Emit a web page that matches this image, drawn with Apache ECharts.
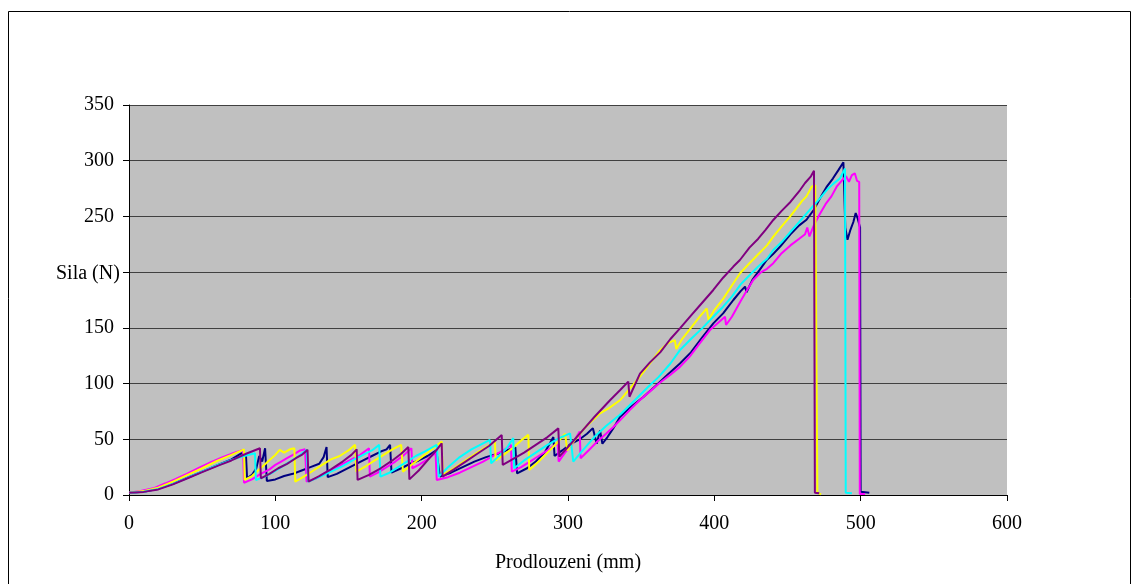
<!DOCTYPE html>
<html>
<head>
<meta charset="utf-8">
<script src="https://cdn.jsdelivr.net/npm/echarts@6/dist/echarts.min.js"></script>
<style>
html, body { margin: 0; padding: 0; background: #fff; }
#chart { width: 1132px; height: 584px; }
</style>
</head>
<body>
<div id="chart"></div>
<script>
// tick labels / axis ranges
const xTicks = [0, 100, 200, 300, 400, 500, 600]
const yTicks = [0, 50, 100, 150, 200, 250, 300, 350]

// five tensile test curves, [prodlouzeni mm, sila N]
const navyData = [[0,2],[10,3],[20,5.5],[30,10],[40,15.5],[50,21],[60,26.5],[70,32],[77,37.5],[80,34],[80.7,15],[84,18],[87,24],[89,35],[91,30],[93,42],[94.2,12.5],[100,14],[106,17],[112,19],[118,22],[124,25],[130,28],[133,34],[135,43],[135.8,16],[142,19],[148,23],[154,27],[160,31],[166,35],[172,39],[176,41],[178.4,45],[179.4,20],[186,24],[192,28],[198,31],[204,35],[210,40],[212.5,16.5],[220,20],[228,25],[236,30],[244,34],[252,37],[258,40],[264,43],[265.2,19.4],[272,24],[278,30],[284,38],[290,52],[290.8,35],[296,40],[302,46],[308,50],[313,55],[317,60],[319.6,46],[321.9,58],[323.5,46],[327,52],[331,60],[335.5,70],[342,78],[351.5,88],[360,98],[368,108],[376.5,118],[384,128],[392,142],[399.3,154],[406,163],[413,175],[418,183],[421,187],[422,182],[426,193],[431,202],[435.8,211],[440,216],[445,223],[452,234],[458,242],[463,247],[468,256],[473,268],[477,277],[481,284],[485,292],[488.2,298.6],[489.5,240],[491,229],[493,238],[495,245],[496.6,253],[498,248],[499.6,240],[500,3],[505.9,2]]
const magentaData = [[0,2],[8,3.5],[16.6,6],[25,10.5],[32,14.5],[39.4,19],[48,24.5],[56,29.5],[64,34],[72,38],[78,40.5],[78.6,11],[84,14],[90,19],[96,23],[100,27],[104,30],[108,33],[112,36],[117,40],[120.3,41],[121.4,12],[128,15],[134,20],[140,23],[146,28],[152,32],[158,36],[164,42],[164.6,16.5],[170,20],[176,25],[182,30],[188,36],[193,42],[193.6,24],[198,27],[204,32],[209.5,38],[210.3,13.5],[218,16],[226,20],[234,25],[242,30],[250,36],[256,40],[261,45],[261.6,21],[268,25],[274,30],[280,35],[286,40],[293,46.5],[293.6,30],[298,38],[303,46],[308,57],[308.6,33],[314,40],[320,48],[326,55],[331,61],[335.5,67],[342,76],[349,85],[356,93],[363,101],[370,108],[376.5,115],[383,124],[390,136],[397,148],[403,155],[407.3,160],[408,152.6],[412,160],[418,174],[422,183],[426.6,193],[432,200],[436,203],[440.3,208],[446,217],[452,224],[458,230],[462,234],[463.5,240],[465,232],[468,242],[472,252],[476,261],[480,268],[483.6,276.7],[487,282],[490,286],[492,281],[494,287],[496,288.7],[497.5,282],[499,281],[499.4,1],[503,1]]
const yellowData = [[0,2],[10,3.5],[20,6.5],[30,12],[40,18],[50,24],[60,30.5],[70,36],[78.6,41],[79,13.5],[84,17],[90,24],[95,30],[100,36],[103,40.5],[106,38],[110,41],[113,42],[113.6,12],[120,17],[126,22],[132,27],[138,32],[144,35],[150,40],[154.5,45],[155.4,21],[162,26],[168,31],[174,36],[180,41],[186,45],[187.2,21],[194,28],[200,34],[206,40],[213.7,48],[214.4,18],[222,24],[230,31],[238,38],[244,43],[250,48],[250.6,31],[256,36],[262,42],[268,49],[272.9,54],[273.5,22.4],[280,30],[286,38],[292,46],[298,55],[299.5,40],[305,50],[312,61],[321.9,73.3],[328,78],[335.5,85],[342,95],[349,106],[356,118],[362.9,130],[368,136],[373,139],[374,131],[378,140],[384,150],[390,160],[394.8,167.5],[396,157],[400,166],[406,176],[412,188],[417.6,199],[424,208],[430,216],[436,224],[440.3,231.8],[446,241],[451.7,249.8],[456,257],[460,264],[463,268],[466.5,276.7],[469,278],[470,279],[470.4,2],[473,0.5]]
const cyanData = [[0,2],[10,3],[20,5.5],[30,10],[40,15.5],[50,21],[60,26.5],[70,31.5],[80,35.5],[86.1,37.5],[86.7,13.5],[92,16],[98,20],[104,25],[110,30],[116,35],[121.4,40.5],[122.5,12],[130,16],[138,21],[146,26],[154,32],[160,36],[166,40],[171,45],[171.8,16.5],[178,20],[184,25],[190,30],[196,35],[202,39],[210.3,45],[211.7,16.5],[218,25],[226,34],[234,41],[240,45],[246.7,49.4],[247.5,28.4],[252,34],[258,42],[262.6,51],[263.2,24],[270,31],[278,38],[286,45],[294,51],[301.4,55.3],[303.6,30],[310,40],[318,52],[326,62],[335.5,72],[345.8,85.3],[354,96],[362,106],[370,118],[376.5,130],[384,140],[392,150],[399.3,160],[406,169],[412,178],[418,189],[424.2,197.4],[430,205],[436,212],[440.3,219.9],[446,227],[452,236],[458,245],[463.1,252.8],[468,260],[472,266],[476.8,273.7],[481,279],[485.9,284.2],[489.3,293],[489.8,2],[494,1.5]]
const purpleData = [[0,2],[10,2.8],[20,5],[30,9.5],[40,15],[50,20.5],[62.2,27],[70,31],[80,37],[89.5,42],[90.1,15],[96,19],[102,24],[108,28],[114,33],[118,36],[122,40.5],[122.7,12],[130,17],[138,23],[146,30],[152,36],[155.6,41],[156.2,13.5],[164,18],[172,24],[180,31],[186,37],[190.9,43],[191.6,14],[198,22],[204,31],[210,40],[213.7,46.4],[214.3,16.5],[222,23],[230,30],[238,37],[246,44],[254.7,53.8],[255.4,27],[262,32],[270,38],[278,45],[286,52],[293.4,59.8],[294.1,34.4],[302,46],[310,58],[318,70],[328.7,85],[335.5,94],[341.2,101.7],[342,88.2],[349.2,109],[356,119],[363,128],[370,140],[376.5,149.6],[384,161],[392,173],[399.3,184],[406,195],[413,205],[417.5,210.9],[424,222],[430,230],[435,238],[440.3,246.8],[446,255],[452,263],[458.6,273.7],[462,280],[466,286],[468.1,291],[468.7,2],[471.7,1.5]]

const seriesList = [
	{ name: 'navy', color: '#000080', data: navyData },
	{ name: 'magenta', color: '#FF00FF', data: magentaData },
	{ name: 'yellow', color: '#FFFF00', data: yellowData },
	{ name: 'cyan', color: '#00FFFF', data: cyanData },
	{ name: 'purple', color: '#800080', data: purpleData }
]

const font = 'Liberation Serif, Times New Roman, serif'
const myChart = echarts.init(document.getElementById('chart'))

let option = {
	animation: false,
	backgroundColor: '#fff',
	grid: {
		left: 129, top: 105, width: 878, height: 390,
		show: true, backgroundColor: '#C0C0C0', borderWidth: 0
	},
	xAxis: {
		type: 'value',
		min: xTicks[0], max: xTicks[xTicks.length - 1], interval: 100,
		name: 'Prodlouzeni (mm)', nameLocation: 'middle', nameGap: 58,
		nameTextStyle: { fontFamily: font, fontSize: 20, color: '#000' },
		axisLine: { show: true, lineStyle: { color: '#000', width: 1 } },
		axisTick: { show: true, length: 6, lineStyle: { color: '#000' } },
		axisLabel: { fontFamily: font, fontSize: 20, color: '#000', margin: 19 },
		splitLine: { show: false }
	},
	yAxis: {
		type: 'value',
		min: yTicks[0], max: yTicks[yTicks.length - 1], interval: 50,
		axisLine: { show: true, lineStyle: { color: '#000', width: 1 } },
		axisTick: { show: true, length: 6, lineStyle: { color: '#000' } },
		axisLabel: { fontFamily: font, fontSize: 20, color: '#000', margin: 15 },
		splitLine: { show: true, lineStyle: { color: '#404040', width: 1 } }
	},
	graphic: [
		{
			type: 'rect', silent: true,
			shape: { x: 8.5, y: 11.5, width: 1122, height: 600 },
			style: { fill: 'none', stroke: '#000', lineWidth: 1 }
		},
		{
			// axis title box sits over the 200 label, as in the source chart
			type: 'text', left: 56, top: 262, z: 100,
			style: {
				text: 'Sila (N)', fontFamily: font, fontSize: 20, fill: '#000',
				backgroundColor: '#fff', padding: [2, 0, 2, 0]
			}
		}
	],
	series: seriesList.map(s => ({
		name: s.name,
		type: 'line',
		data: s.data,
		showSymbol: false,
		symbol: 'none',
		lineStyle: { color: s.color, width: 2 },
		itemStyle: { color: s.color }
	}))
}

myChart.setOption(option)
</script>
</body>
</html>
